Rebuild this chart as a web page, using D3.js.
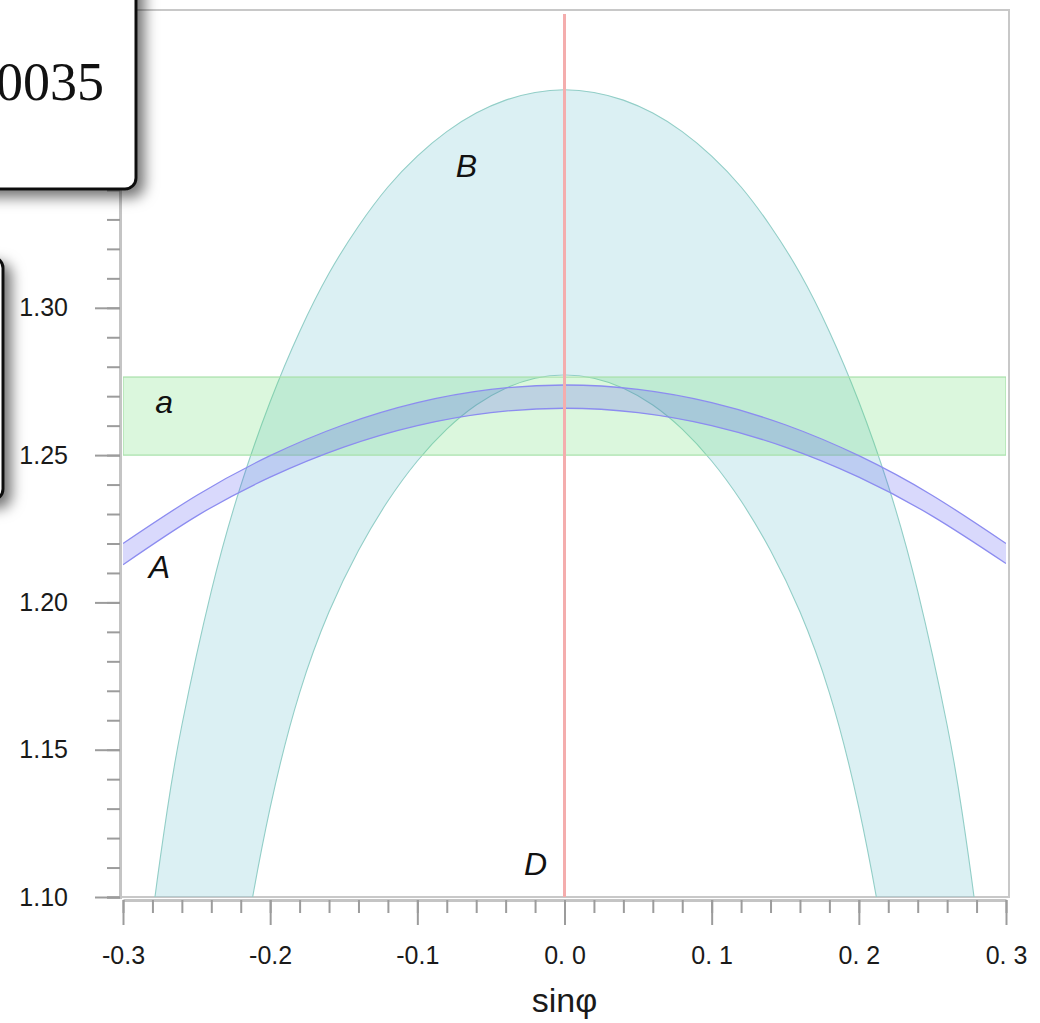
<!DOCTYPE html>
<html>
<head>
<meta charset="utf-8">
<script src="https://cdn.jsdelivr.net/npm/d3@7"></script>
<style>
  html, body { margin: 0; padding: 0; background: #fff; }
  svg { display: block; }
</style>
</head>
<body>
<svg id="chart" width="1040" height="1023"></svg>
<script>
// ---------------- data ----------------
// sinφ grid for band B (teal)
const bGrid = [-0.29,-0.28,-0.27,-0.26,-0.24,-0.22,-0.20,-0.18,-0.16,-0.14,-0.12,-0.10,-0.08,-0.06,-0.04,-0.02,0,
               0.02,0.04,0.06,0.08,0.10,0.12,0.14,0.16,0.18,0.20,0.22,0.24,0.26,0.27,0.28,0.29];
const bOuter = [1.049,1.0933,1.1293,1.1583,1.2038,1.2396,1.2681,1.2919,1.3117,1.3277,1.3410,1.3515,1.3598,1.3661,1.3705,1.3731,1.3740,
                1.3731,1.3705,1.3661,1.3598,1.3515,1.3410,1.3277,1.3117,1.2919,1.2681,1.2396,1.2038,1.1583,1.1293,1.0933,1.049];
const bInner = [0.770,0.8213,0.8713,0.9213,1.0063,1.0763,1.1303,1.1693,1.1968,1.2176,1.2344,1.2480,1.2588,1.2670,1.2727,1.2761,1.2772,
                1.2761,1.2727,1.2670,1.2588,1.2480,1.2344,1.2176,1.1968,1.1693,1.1303,1.0763,1.0063,0.9213,0.8713,0.8213,0.770];

// band A (blue)
const aGrid  = [-0.30,-0.25,-0.20,-0.15,-0.10,-0.05,0,0.05,0.10,0.15,0.20,0.25,0.30];
const aUpper = [1.2200,1.2363,1.2498,1.2603,1.2678,1.2723,1.2738,1.2723,1.2678,1.2603,1.2498,1.2363,1.2200];
const aLower = [1.2128,1.2293,1.2425,1.2527,1.2600,1.2644,1.2659,1.2644,1.2600,1.2527,1.2425,1.2293,1.2132];

// band a (green, horizontal)
const aBandRange = [1.2500, 1.2765];
// line D (vertical at sinφ = 0)
const dLineX = 0;

// axes
const xDomain = [-0.3, 0.3];
const yDomain = [1.10, 1.40];
const xMajorTicks = [-0.3,-0.2,-0.1,0.0,0.1,0.2,0.3];
const xTickLabels = ["-0.3","-0.2","-0.1","0. 0","0. 1","0. 2","0. 3"];
const xMinorTicks = d3.range(-15, 16).map(i => +(i*0.02).toFixed(2));
const yMajorTicks = [1.10,1.15,1.20,1.25,1.30,1.35,1.40];
const yMinorTicks = d3.range(110, 141).map(i => +(i/100).toFixed(2));
const xTitle = "sinφ";

// annotation letters (data coordinates)
const letters = [
  {t:"B", s:-0.0666, v:1.3445},
  {t:"a", s:-0.2721, v:1.2643},
  {t:"A", s:-0.2752, v:1.2083},
  {t:"D", s:-0.0197, v:1.1075}
];
const boxText = "0035";

// ---------------- drawing ----------------
const svg = d3.select("#chart");
const x = d3.scaleLinear().domain(xDomain).range([123, 1006]);
const y = d3.scaleLinear().domain(yDomain).range([897, 13.2]);

const defs = svg.append("defs");
defs.append("clipPath").attr("id","plotclip")
  .append("rect").attr("x", x(xDomain[0])).attr("y", 10)
  .attr("width", x(xDomain[1]) - x(xDomain[0])).attr("height", y(yDomain[0]) - 10);
const sh = defs.append("filter").attr("id","shadow")
  .attr("x","-50%").attr("y","-50%").attr("width","200%").attr("height","200%");
sh.append("feDropShadow").attr("dx",7).attr("dy",7).attr("stdDeviation",7)
  .attr("flood-color","#000").attr("flood-opacity",0.55);

// frame
svg.append("rect")
  .attr("x", 120).attr("y", 10)
  .attr("width", 1009 - 120).attr("height", y(yDomain[0]) - 10)
  .attr("fill","#fff").attr("stroke","#c8c8c8").attr("stroke-width",2);

const plot = svg.append("g").attr("clip-path","url(#plotclip)");

// band B
const bData = bGrid.map((s,i) => ({s, lo:bInner[i], hi:bOuter[i]}));
plot.append("path").datum(bData)
  .attr("d", d3.area().x(d=>x(d.s)).y0(d=>y(d.lo)).y1(d=>y(d.hi)).curve(d3.curveNatural))
  .attr("fill","rgba(140,205,215,0.31)").attr("stroke","none");
[ "hi", "lo" ].forEach(k => {
  plot.append("path").datum(bData)
    .attr("d", d3.line().x(d=>x(d.s)).y(d=>y(d[k])).curve(d3.curveNatural))
    .attr("fill","none").attr("stroke","#92cec7").attr("stroke-width",1.1);
});

// band a (green)
plot.append("rect")
  .attr("x", x(xDomain[0])).attr("width", x(xDomain[1]) - x(xDomain[0]))
  .attr("y", y(aBandRange[1])).attr("height", y(aBandRange[0]) - y(aBandRange[1]))
  .attr("fill","rgba(100,220,110,0.23)").attr("stroke","#a6e0a8").attr("stroke-width",1.2);

// band A (blue)
const aData = aGrid.map((s,i) => ({s, lo:aLower[i], hi:aUpper[i]}));
plot.append("path").datum(aData)
  .attr("d", d3.area().x(d=>x(d.s)).y0(d=>y(d.lo)).y1(d=>y(d.hi)).curve(d3.curveNatural))
  .attr("fill","rgba(80,80,240,0.22)").attr("stroke","none");
[ "hi", "lo" ].forEach(k => {
  plot.append("path").datum(aData)
    .attr("d", d3.line().x(d=>x(d.s)).y(d=>y(d[k])).curve(d3.curveNatural))
    .attr("fill","none").attr("stroke","#8c8cf0").attr("stroke-width",1.3);
});

// line D
svg.append("line")
  .attr("x1", x(dLineX)).attr("x2", x(dLineX))
  .attr("y1", 14).attr("y2", y(yDomain[0]))
  .attr("stroke","#f4adad").attr("stroke-width",3);

// letters
svg.selectAll("text.letter").data(letters).join("text")
  .attr("class","letter")
  .attr("x", d=>x(d.s)).attr("y", d=>y(d.v))
  .attr("text-anchor","middle")
  .attr("font-family","'Liberation Sans', Arial, sans-serif")
  .attr("font-style","italic").attr("font-size",32)
  .attr("fill","#111").text(d=>d.t);

// axes
function styleAxis(g){
  g.selectAll(".domain").attr("stroke","#c4c4c4").attr("stroke-width",3);
  g.selectAll(".tick line").attr("stroke","#9c9c9c").attr("stroke-width",2);
  g.selectAll(".tick text").attr("fill","#1a1a1a")
    .attr("font-family","'Liberation Sans', Arial, sans-serif").attr("font-size",25);
}
// y
const gyMin = svg.append("g").attr("transform","translate(120,0)")
  .call(d3.axisLeft(y).tickValues(yMinorTicks).tickSize(13).tickFormat(""));
styleAxis(gyMin);
const gy = svg.append("g").attr("transform","translate(120,0)")
  .call(d3.axisLeft(y).tickValues(yMajorTicks).tickSize(25).tickPadding(27).tickFormat(d3.format(".2f")));
styleAxis(gy);
gy.select(".domain").remove();
// x
const gxMin = svg.append("g").attr("transform","translate(0,900)")
  .call(d3.axisBottom(x).tickValues(xMinorTicks).tickSize(13).tickFormat("").tickSizeOuter(0));
styleAxis(gxMin);
const gx = svg.append("g").attr("transform","translate(0,900)")
  .call(d3.axisBottom(x).tickValues(xMajorTicks).tickSize(25).tickPadding(21)
        .tickFormat((d,i)=>xTickLabels[i]));
styleAxis(gx);
gx.select(".domain").remove();

svg.append("text")
  .attr("x", x(0)).attr("y", 1012)
  .attr("text-anchor","middle")
  .attr("font-family","'Liberation Sans', Arial, sans-serif")
  .attr("font-size",34).attr("fill","#1a1a1a").text(xTitle);

// overlay boxes (partially off-canvas)
svg.append("rect")
  .attr("x",-40).attr("y",-40).attr("width",176).attr("height",229).attr("rx",11)
  .attr("fill","#fff").attr("stroke","#111").attr("stroke-width",3)
  .attr("filter","url(#shadow)");
svg.append("text")
  .attr("x",104).attr("y",100).attr("text-anchor","end")
  .attr("font-family","'Liberation Serif', 'Times New Roman', serif")
  .attr("font-size",54).attr("fill","#111").text(boxText);

svg.append("rect")
  .attr("x",-60).attr("y",257).attr("width",63).attr("height",243).attr("rx",11)
  .attr("fill","#fff").attr("stroke","#111").attr("stroke-width",3)
  .attr("filter","url(#shadow)");
</script>
</body>
</html>
